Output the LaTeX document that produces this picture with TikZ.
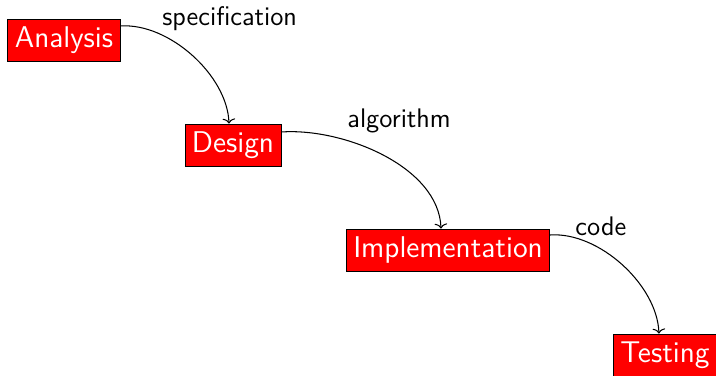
\documentclass[tikz,border=0pt]{standalone}
\usetikzlibrary{arrows.meta}
\renewcommand{\familydefault}{\sfdefault}
\begin{document}
\begin{tikzpicture}[x=0.48pt,y=0.48pt,
  stage/.style={draw=black, fill=red, text=white, font=\sffamily\Large,
    minimum height=42*0.48pt, inner ysep=0pt, text height=10.2pt, text depth=2.6pt},
  lbl/.style={font=\sffamily\fontsize{12.9}{15}\selectfont, anchor=base west, inner sep=0pt},
  flow/.style={-{To[width=6pt,length=2.4pt]}, line width=0.5pt, out=4, in=92, looseness=0.85}]
\useasboundingbox (0,0) rectangle (716,376);
\node[stage] (a) at (64,336) {Analysis};
\node[stage] (d) at (233,231) {Design};
\node[stage] (i) at (448,126) {Implementation};
\node[stage, anchor=west] (t) at (613,21) {Testing};
\draw[flow] ([yshift=14*0.48pt]a.east) to ([xshift=-4*0.48pt]d.north);
\draw[flow] ([yshift=13*0.48pt]d.east) to ([xshift=-7*0.48pt]i.north);
\draw[flow] ([yshift=15*0.48pt]i.east) to ([xshift=-6*0.48pt]t.north);
\node[lbl] (l1) at (162,350) {specification};
\node[lbl] (l2) at (347,248) {algorithm};
\node[lbl] (l3) at (575,140) {code};
\end{tikzpicture}
\end{document}
